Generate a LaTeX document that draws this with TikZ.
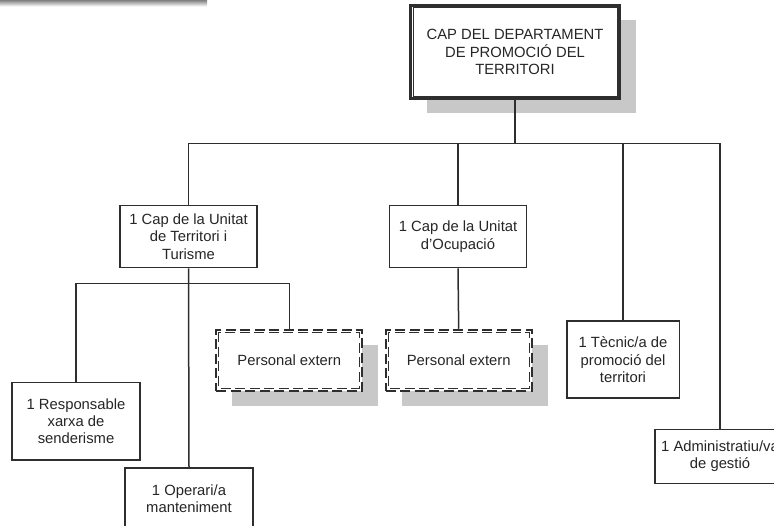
\documentclass[tikz,border=0pt]{standalone}
\usepackage{fontspec}
\setmainfont{Liberation Sans}
\usetikzlibrary{shadows}
\definecolor{shade}{HTML}{C8C8C8}
\definecolor{ink}{HTML}{2E2E2E}
\begin{document}
\begin{tikzpicture}[x=1pt,y=-1pt,
  every node/.style={font=\fontsize{14.8}{17.3}\selectfont, text=black!85, align=center, inner sep=0pt},
  box/.style={draw=ink, line width=1.5pt, fill=white, rectangle},
  shadowed/.style={drop shadow={shadow xshift=16pt, shadow yshift=-15pt, fill=shade, opacity=1}},
  extbox/.style={box, shadowed, line width=1.9pt, dash pattern=on 10pt off 4.5pt, minimum width=146pt, minimum height=61pt},
  link/.style={draw=ink, line width=1.5pt}]
\clip (0,0) rectangle (774,526);
\fill[white] (0,0) rectangle (774,526);
\fill[shade] (0,0) rectangle (207,6.5);

% nodes
\node[box, shadowed, line width=2.2pt, minimum width=209pt, minimum height=93pt] (top) at (515,52) {CAP DEL DEPARTAMENT\\DE PROMOCIÓ DEL\\TERRITORI};
\draw[ink, line width=0.8pt] ([xshift=3.5pt,yshift=-3.5pt]top.north west) rectangle ([xshift=-3.5pt,yshift=3.5pt]top.south east);

\node[box, minimum width=137pt, minimum height=62pt] (terr) at (188.5,236.7) {1 Cap de la Unitat\\de Territori i\\Turisme};
\node[box, minimum width=137pt, minimum height=62pt] (ocup) at (458,236.7) {1 Cap de la Unitat\\d’Ocupació};
\node[box, minimum width=112.5pt, minimum height=77pt] (tecn) at (623,359.7) {1 Tècnic/a de\\promoció del\\territori};
\node[box, minimum width=130pt, minimum height=54pt] (admin) at (720,456.3) {1 Administratiu/va\\de gestió};
\node[box, minimum width=128pt, minimum height=77.5pt] (resp) at (76,421.2) {1 Responsable\\xarxa de\\senderisme};
\node[box, minimum width=128pt, minimum height=61.5pt] (oper) at (189,498.5) {1 Operari/a\\manteniment};

\node[extbox] (ext1) at (289.3,360.2) {Personal extern};
\node[extbox] (ext2) at (458.7,360.2) {Personal extern};
\foreach \e in {ext1,ext2}
  \draw[ink, line width=0.8pt, dash pattern=on 10pt off 4.5pt] ([xshift=3.5pt,yshift=-3.5pt]\e.north west) rectangle ([xshift=-3.5pt,yshift=3.5pt]\e.south east);

% connectors
\coordinate (bus) at (515,143.5);
\coordinate (sub) at (189,283.3);
\draw[link] (top.south) -- (bus);
\draw[link] (terr.north) |- (bus);
\draw[link] (ocup.north) |- (bus);
\draw[link] (tecn.north) |- (bus);
\draw[link] (admin.north) |- (bus);
\draw[link] (terr.south) -- (oper.north);
\draw[link] (resp.north) |- (sub);
\draw[link] (ext1.north) |- (sub);
\draw[link] (ocup.south) -- (ext2.north);
\end{tikzpicture}
\end{document}
